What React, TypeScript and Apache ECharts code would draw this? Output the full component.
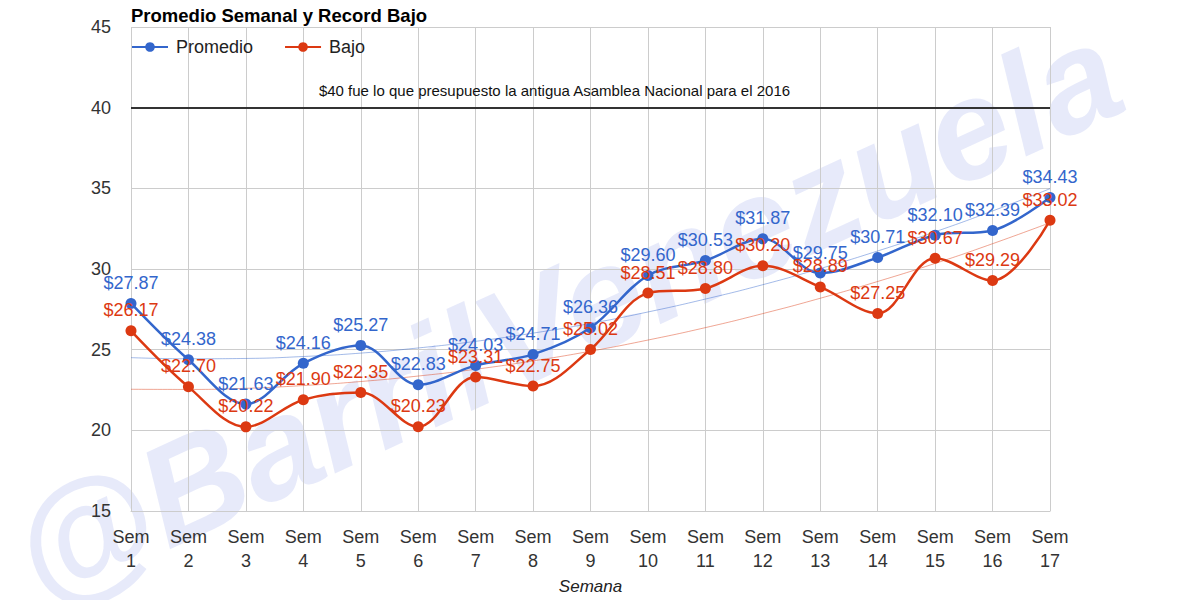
import React, { useEffect, useRef } from "react";
import * as echarts from "echarts";

const categories = [
  "Sem 1", "Sem 2", "Sem 3", "Sem 4", "Sem 5", "Sem 6", "Sem 7", "Sem 8", "Sem 9",
  "Sem 10", "Sem 11", "Sem 12", "Sem 13", "Sem 14", "Sem 15", "Sem 16", "Sem 17",
];
const promedio = [27.87, 24.38, 21.63, 24.16, 25.27, 22.83, 24.03, 24.71, 26.36, 29.6, 30.53, 31.87, 29.75, 30.71, 32.1, 32.39, 34.43];
const bajo = [26.17, 22.7, 20.22, 21.9, 22.35, 20.23, 23.31, 22.75, 25.02, 28.51, 28.8, 30.2, 28.89, 27.25, 30.67, 29.29, 33.02];
const promedioTrend = [24.51, 24.44, 24.46, 24.58, 24.79, 25.11, 25.52, 26.03, 26.63, 27.34, 28.14, 29.03, 30.03, 31.12, 32.31, 33.6, 34.98];
const bajoTrend = [22.55, 22.54, 22.61, 22.78, 23.03, 23.37, 23.79, 24.31, 24.91, 25.6, 26.37, 27.24, 28.19, 29.23, 30.35, 31.57, 32.87];
const budgetValue = 40;
const budgetText = "$40 fue lo que presupuesto la antigua Asamblea Nacional para el 2016";
const titleText = "Promedio Semanal y Record Bajo";
const watermarkText = "@BarrilVenezuela";

const BLUE = "#3366cc";
const RED = "#dc3912";
const FONT = "Arial, 'Liberation Sans', Helvetica, sans-serif";

export default function App() {
  const ref = useRef<HTMLDivElement>(null);
  useEffect(() => {
    if (!ref.current) return;
    const chart = echarts.init(ref.current, undefined, { renderer: "svg" });
    const labelCfg = (color: string) => ({
      show: true,
      position: "top",
      distance: 6,
      color,
      fontSize: 18,
      fontFamily: FONT,
      formatter: (p: any) => "$" + Number(p.value).toFixed(2),
    });
    chart.setOption({
      animation: false,
      backgroundColor: "#ffffff",
      title: {
        text: titleText,
        left: 126,
        top: 1,
        textStyle: { fontFamily: FONT, fontWeight: "bold", fontSize: 18.5, color: "#000" },
      },
      legend: {
        data: ["Promedio", "Bajo"],
        left: 126,
        top: 33,
        itemWidth: 36,
        itemHeight: 12,
        itemGap: 31,
        textStyle: { fontFamily: FONT, fontSize: 18, color: "#222", padding: [0, 0, 0, 3] },
      },
      graphic: [
        {
          type: "text",
          x: 566,
          y: 313,
          rotation: 0.43,
          z: -10,
          silent: true,
          style: {
            text: watermarkText,
            font: "italic bold 142px Arial, 'Liberation Sans', sans-serif",
            fill: "rgba(70,90,220,0.13)",
            align: "center",
            verticalAlign: "middle",
          },
        },
      ],
      grid: { left: 131, width: 919, top: 27, height: 490, containLabel: false },
      xAxis: {
        type: "category",
        data: categories,
        boundaryGap: false,
        name: "Semana",
        nameLocation: "middle",
        nameGap: 61,
        nameTextStyle: { fontFamily: FONT, fontStyle: "italic", fontSize: 17, color: "#222" },
        axisLine: { show: true, lineStyle: { color: "#cccccc", width: 1 } },
        axisTick: { show: false },
        splitLine: { show: true, lineStyle: { color: "#cccccc", width: 1 } },
        axisLabel: {
          fontFamily: FONT,
          fontSize: 18,
          color: "#333",
          margin: 14,
          lineHeight: 24,
          interval: 0,
          formatter: (v: string) => v.replace(" ", "\n"),
        },
      },
      yAxis: {
        type: "value",
        min: 15,
        max: 45,
        interval: 5,
        axisLine: { show: false },
        axisTick: { show: false },
        splitLine: { show: true, lineStyle: { color: "#cccccc", width: 1 } },
        axisLabel: { fontFamily: FONT, fontSize: 18, color: "#333", margin: 20 },
      },
      series: [
        {
          name: "Promedio",
          type: "line",
          data: promedio,
          smooth: 0.35,
          symbol: "circle",
          symbolSize: 11,
          itemStyle: { color: BLUE },
          lineStyle: { color: BLUE, width: 2.5 },
          label: labelCfg(BLUE),
          z: 4,
          markLine: {
            silent: true,
            symbol: "none",
            lineStyle: { color: "#333", width: 2, type: "solid" },
            label: {
              show: true,
              position: "insideMiddleTop",
              distance: 10,
              formatter: budgetText,
              color: "#111",
              fontSize: 15,
              fontFamily: FONT,
              padding: [0, 72, 0, 0],
            },
            data: [{ yAxis: budgetValue }],
          },
        },
        {
          name: "Bajo",
          type: "line",
          data: bajo,
          smooth: 0.35,
          symbol: "circle",
          symbolSize: 11,
          itemStyle: { color: RED },
          lineStyle: { color: RED, width: 2.5 },
          label: labelCfg(RED),
          z: 5,
        },
        {
          name: "Tendencia Promedio",
          type: "line",
          data: promedioTrend,
          smooth: true,
          symbol: "none",
          silent: true,
          lineStyle: { color: "rgba(51,102,204,0.45)", width: 1 },
          z: 2,
        },
        {
          name: "Tendencia Bajo",
          type: "line",
          data: bajoTrend,
          smooth: true,
          symbol: "none",
          silent: true,
          lineStyle: { color: "rgba(220,57,18,0.45)", width: 1 },
          z: 2,
        },
      ],
    });
    return () => chart.dispose();
  }, []);
  return (
    <div
      ref={ref}
      style={{ position: "fixed", left: 0, top: 0, width: 1200, height: 600 }}
    />
  );
}
